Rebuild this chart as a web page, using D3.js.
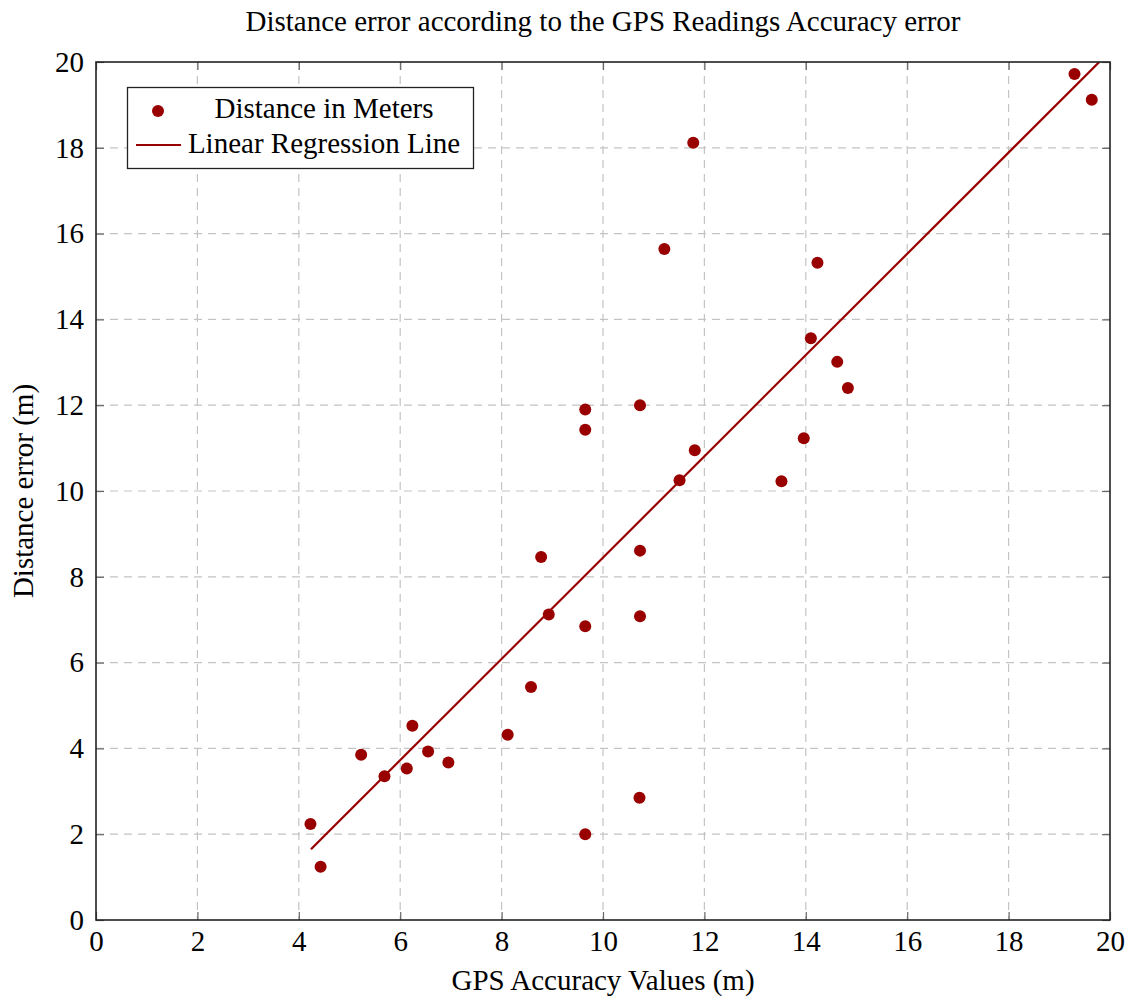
<!DOCTYPE html>
<html>
<head>
<meta charset="utf-8">
<script src="https://cdn.jsdelivr.net/npm/d3@7"></script>
<style>
html, body { margin: 0; padding: 0; background: #fff; }
svg { display: block; font-family: "Liberation Serif", "Times New Roman", serif; }
</style>
</head>
<body>
<svg id="chart" width="1130" height="999"></svg>
<script>
// ---- data ----
const gpsAccuracy = [4.23, 4.43, 5.23, 5.69, 6.13, 6.24, 6.55, 6.95, 8.12, 8.58, 8.78, 8.93,
  9.65, 9.65, 9.65, 9.65, 10.73, 10.73, 10.73, 10.72, 11.21, 11.51, 11.78, 11.81,
  13.52, 13.96, 14.10, 14.23, 14.62, 14.83, 19.30, 19.64];
const distanceError = [2.24, 1.24, 3.85, 3.35, 3.53, 4.53, 3.93, 3.67, 4.32, 5.43, 8.46, 7.12,
  6.85, 11.43, 11.90, 2.00, 12.00, 8.61, 7.08, 2.85, 15.64, 10.25, 18.12, 10.95,
  10.23, 11.23, 13.56, 15.32, 13.01, 12.40, 19.72, 19.12];
const regressionX = [4.24, 20];
const regressionY = [1.65, 20.25];
const xTicks = [0, 2, 4, 6, 8, 10, 12, 14, 16, 18, 20];
const yTicks = [0, 2, 4, 6, 8, 10, 12, 14, 16, 18, 20];
const seriesNames = ["Distance in Meters", "Linear Regression Line"];
const titleText = "Distance error according to the GPS Readings Accuracy error";
const xLabel = "GPS Accuracy Values (m)";
const yLabel = "Distance error (m)";

(function () {
// ---- layout ----
const pL = 96, pR = 1110, pT = 62, pB = 920;
const red = "#990000";
const fs = 29;
const svg = d3.select("#chart");
const x = d3.scaleLinear().domain([0, 20]).range([pL, pR]);
const y = d3.scaleLinear().domain([0, 20]).range([pB, pT]);

svg.append("defs").append("clipPath").attr("id", "plotclip")
  .append("rect").attr("x", pL).attr("y", pT).attr("width", pR - pL).attr("height", pB - pT);

// grid
svg.append("g").selectAll("line").data(xTicks.slice(1, -1)).join("line")
  .attr("x1", d => x(d)).attr("x2", d => x(d)).attr("y1", pT).attr("y2", pB)
  .attr("stroke", "#c4c4c4").attr("stroke-width", 1.2).attr("stroke-dasharray", "8,6");
svg.append("g").selectAll("line").data(yTicks.slice(1, -1)).join("line")
  .attr("y1", d => y(d)).attr("y2", d => y(d)).attr("x1", pL).attr("x2", pR)
  .attr("stroke", "#c4c4c4").attr("stroke-width", 1.2).attr("stroke-dasharray", "8,6");

// axes: ticks inside on all sides
const tickLen = 8;
function styleAxis(g) {
  g.select(".domain").remove();
  g.selectAll(".tick line").attr("stroke", "#666").attr("stroke-width", 1.2);
}
svg.append("g").attr("transform", `translate(0,${pB})`)
  .call(d3.axisBottom(x).tickValues(xTicks).tickSize(-tickLen).tickPadding(10).tickFormat(d3.format("d")))
  .call(styleAxis)
  .call(g => g.selectAll("text").attr("font-size", fs).attr("fill", "#000").attr("font-family", "Liberation Serif"));
svg.append("g").attr("transform", `translate(0,${pT})`)
  .call(d3.axisTop(x).tickValues(xTicks).tickSize(-tickLen).tickFormat(""))
  .call(styleAxis);
svg.append("g").attr("transform", `translate(${pL},0)`)
  .call(d3.axisLeft(y).tickValues(yTicks).tickSize(-tickLen).tickPadding(12).tickFormat(d3.format("d")))
  .call(styleAxis)
  .call(g => g.selectAll("text").attr("font-size", fs).attr("fill", "#000").attr("font-family", "Liberation Serif"));
svg.append("g").attr("transform", `translate(${pR},0)`)
  .call(d3.axisRight(y).tickValues(yTicks).tickSize(-tickLen).tickFormat(""))
  .call(styleAxis);

// regression line
const lineData = regressionX.map((d, i) => [d, regressionY[i]]);
svg.append("path").datum(lineData)
  .attr("clip-path", "url(#plotclip)")
  .attr("d", d3.line().x(d => x(d[0])).y(d => y(d[1])))
  .attr("fill", "none").attr("stroke", red).attr("stroke-width", 2.2);

// points
svg.append("g").selectAll("circle").data(gpsAccuracy.map((d, i) => [d, distanceError[i]])).join("circle")
  .attr("cx", d => x(d[0])).attr("cy", d => y(d[1])).attr("r", 6).attr("fill", red);

// frame
svg.append("rect").attr("x", pL).attr("y", pT).attr("width", pR - pL).attr("height", pB - pT)
  .attr("fill", "none").attr("stroke", "#222").attr("stroke-width", 1.6);

// legend
const lg = svg.append("g");
lg.append("rect").attr("x", 127.5).attr("y", 87.5).attr("width", 346).attr("height", 81)
  .attr("fill", "#fff").attr("stroke", "#222").attr("stroke-width", 1.3);
lg.append("circle").attr("cx", 158).attr("cy", 111).attr("r", 6).attr("fill", red);
lg.append("line").attr("x1", 136).attr("x2", 181).attr("y1", 145).attr("y2", 145)
  .attr("stroke", red).attr("stroke-width", 2.2);
lg.selectAll("text").data(seriesNames).join("text")
  .attr("x", 324).attr("y", (d, i) => 118 + i * 35)
  .attr("text-anchor", "middle").attr("font-size", fs).text(d => d);

// title and labels
svg.append("text").attr("x", 603).attr("y", 31).attr("text-anchor", "middle")
  .attr("font-size", fs).text(titleText);
svg.append("text").attr("x", 603).attr("y", 990).attr("text-anchor", "middle")
  .attr("font-size", fs).text(xLabel);
svg.append("text").attr("transform", `translate(33,${(pT + pB) / 2}) rotate(-90)`)
  .attr("text-anchor", "middle").attr("font-size", fs).text(yLabel);
})();
</script>
</body>
</html>
